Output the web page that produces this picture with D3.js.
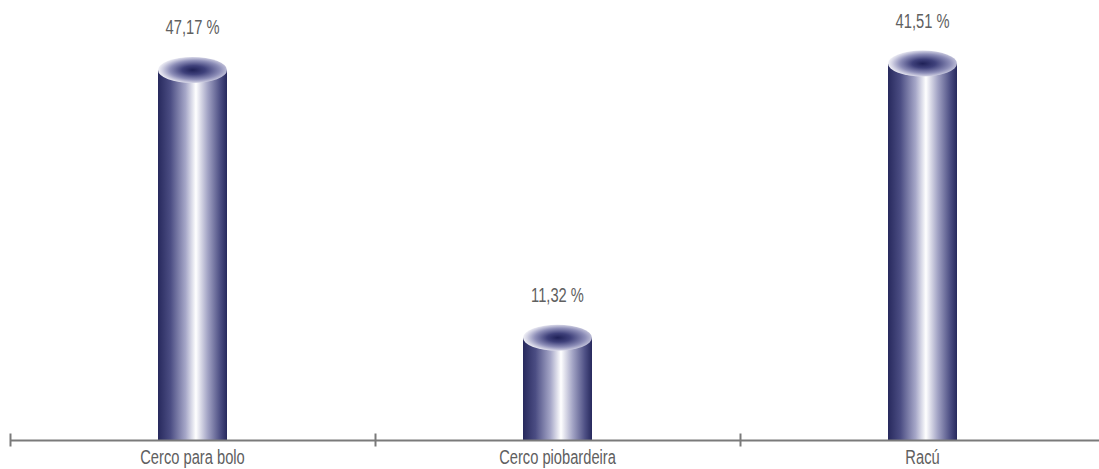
<!DOCTYPE html>
<html>
<head>
<meta charset="utf-8">
<script src="https://cdn.jsdelivr.net/npm/d3@7"></script>
<style>
  html, body { margin: 0; padding: 0; background: #ffffff; }
  svg { display: block; }
</style>
</head>
<body>
<svg id="chart" width="1099" height="469"></svg>
<script>
// ---- data ----
const categories = ["Cerco para bolo", "Cerco piobardeira", "Racú"];
const barValues = [40.8, 11.32, 41.51];          // bar heights as drawn in the picture
const valueLabels = ["47,17 %", "11,32 %", "41,51 %"];

// ---- layout ----
const W = 1099, H = 469;
const baseline = 440.5;
const svg = d3.select("#chart");

const x = d3.scaleBand().domain(categories).range([10, 1105]).padding(0);
const y = d3.scaleLinear().domain([0, 50]).range([baseline, baseline - 454]);

const barW = 69, rx = barW / 2, ry = 13;

const defs = svg.append("defs");
const bodyGrad = defs.append("linearGradient").attr("id", "cylBody")
  .attr("x1", "0%").attr("x2", "100%").attr("y1", "0%").attr("y2", "0%");
[["0%", "#27295d"], ["18%", "#4b4d83"], ["40%", "#a6a7c8"], ["55%", "#ffffff"],
 ["72%", "#a3a4c5"], ["90%", "#4d4f84"], ["100%", "#27295d"]]
  .forEach(([o, c]) => bodyGrad.append("stop").attr("offset", o).attr("stop-color", c));

const topGrad = defs.append("radialGradient").attr("id", "cylTop")
  .attr("cx", "56%").attr("cy", "50%").attr("r", "56%").attr("fx", "50%").attr("fy", "50%");
[["0%", "#1f2157"], ["30%", "#3f417b"], ["65%", "#8d8eb8"], ["88%", "#d2d2e4"], ["100%", "#f2f2f7"]]
  .forEach(([o, c]) => topGrad.append("stop").attr("offset", o).attr("stop-color", c));

const g = svg.append("g");
const bars = g.selectAll("g.bar").data(categories).enter().append("g").attr("class", "bar");

bars.append("rect")
  .attr("x", (d) => x(d) + x.bandwidth() / 2 - rx)
  .attr("y", (d, i) => y(barValues[i]))
  .attr("width", barW)
  .attr("height", (d, i) => baseline - y(barValues[i]))
  .attr("fill", "url(#cylBody)");

bars.append("ellipse")
  .attr("cx", (d) => x(d) + x.bandwidth() / 2)
  .attr("cy", (d, i) => y(barValues[i]))
  .attr("rx", rx).attr("ry", ry)
  .attr("fill", "url(#cylTop)");

bars.append("text")
  .attr("transform", (d, i) => `translate(${x(d) + x.bandwidth() / 2},${y(barValues[i]) - ry - 23}) scale(0.7,1)`)
  .attr("text-anchor", "middle")
  .attr("font-family", "'Liberation Sans', Arial, sans-serif")
  .attr("font-size", 21)
  .attr("fill", "#606060")
  .text((d, i) => valueLabels[i]);

// ---- axis ----
const axis = svg.append("g");
axis.append("line")
  .attr("x1", 10).attr("x2", W)
  .attr("y1", baseline).attr("y2", baseline)
  .attr("stroke", "#7a7a7a").attr("stroke-width", 2);

const tickPos = categories.map((d) => x(d));
axis.selectAll("line.tick").data(tickPos).enter().append("line")
  .attr("class", "tick")
  .attr("x1", (d) => d + 0.5).attr("x2", (d) => d + 0.5)
  .attr("y1", baseline - 7).attr("y2", baseline + 6)
  .attr("stroke", "#7a7a7a").attr("stroke-width", 2);

axis.selectAll("text.cat").data(categories).enter().append("text")
  .attr("class", "cat")
  .attr("transform", (d) => `translate(${x(d) + x.bandwidth() / 2},464) scale(0.7,1)`)
  .attr("text-anchor", "middle")
  .attr("font-family", "'Liberation Sans', Arial, sans-serif")
  .attr("font-size", 21)
  .attr("fill", "#606060")
  .text((d) => d);
</script>
</body>
</html>
